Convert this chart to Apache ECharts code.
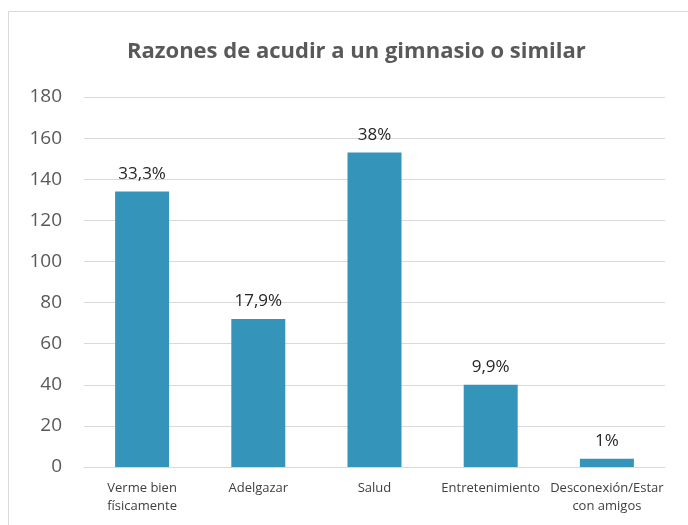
<!DOCTYPE html>
<html>
<head>
<meta charset="utf-8">
<script src="https://cdn.jsdelivr.net/npm/echarts@6/dist/echarts.min.js"></script>
<style>
  html, body { margin: 0; padding: 0; background: #fff; }
  #main { width: 688px; height: 525px; }
</style>
</head>
<body>
<div id="main"></div>
<script>
// categorias y valores
var categories = ['Verme bien\nfísicamente', 'Adelgazar', 'Salud', 'Entretenimiento', 'Desconexión/Estar\ncon amigos'];
var values = [134, 72, 153, 40, 4];
var percentLabels = ['33,3%', '17,9%', '38%', '9,9%', '1%'];

var myChart = echarts.init(document.getElementById('main'));
myChart.setOption({
    animation: false,
    title: {
        text: 'Razones de acudir a un gimnasio o similar',
        left: 122,
        top: 36,
        textStyle: { fontFamily: 'Open Sans', fontSize: 22, fontWeight: 'bold', color: '#595959' }
    },
    graphic: [{
        type: 'rect',
        shape: { x: 8.5, y: 11.5, width: 700, height: 530 },
        style: { fill: 'none', stroke: '#d9d9d9', lineWidth: 1 },
        silent: true
    }],
    grid: { left: 84, right: 23, top: 97, bottom: 58 },
    xAxis: {
        type: 'category',
        data: categories,
        axisLine: { lineStyle: { color: '#d9d9d9', width: 1 } },
        axisTick: { show: false },
        axisLabel: { interval: 0, margin: 12, fontFamily: 'Open Sans', fontSize: 13, color: '#404040', lineHeight: 18 }
    },
    yAxis: {
        type: 'value',
        min: 0,
        max: 180,
        interval: 20,
        axisLine: { show: false },
        axisTick: { show: false },
        splitLine: { lineStyle: { color: '#d9d9d9', width: 1 } },
        axisLabel: { margin: 22, fontFamily: 'Open Sans', fontSize: 19, color: '#595959' }
    },
    series: [{
        type: 'bar',
        data: values,
        barWidth: 54,
        itemStyle: { color: '#3494ba' },
        label: {
            show: true,
            position: 'top',
            distance: 9,
            fontFamily: 'Open Sans',
            fontSize: 17,
            color: '#262626',
            formatter: function (p) { return percentLabels[p.dataIndex]; }
        }
    }]
});
</script>
</body>
</html>
